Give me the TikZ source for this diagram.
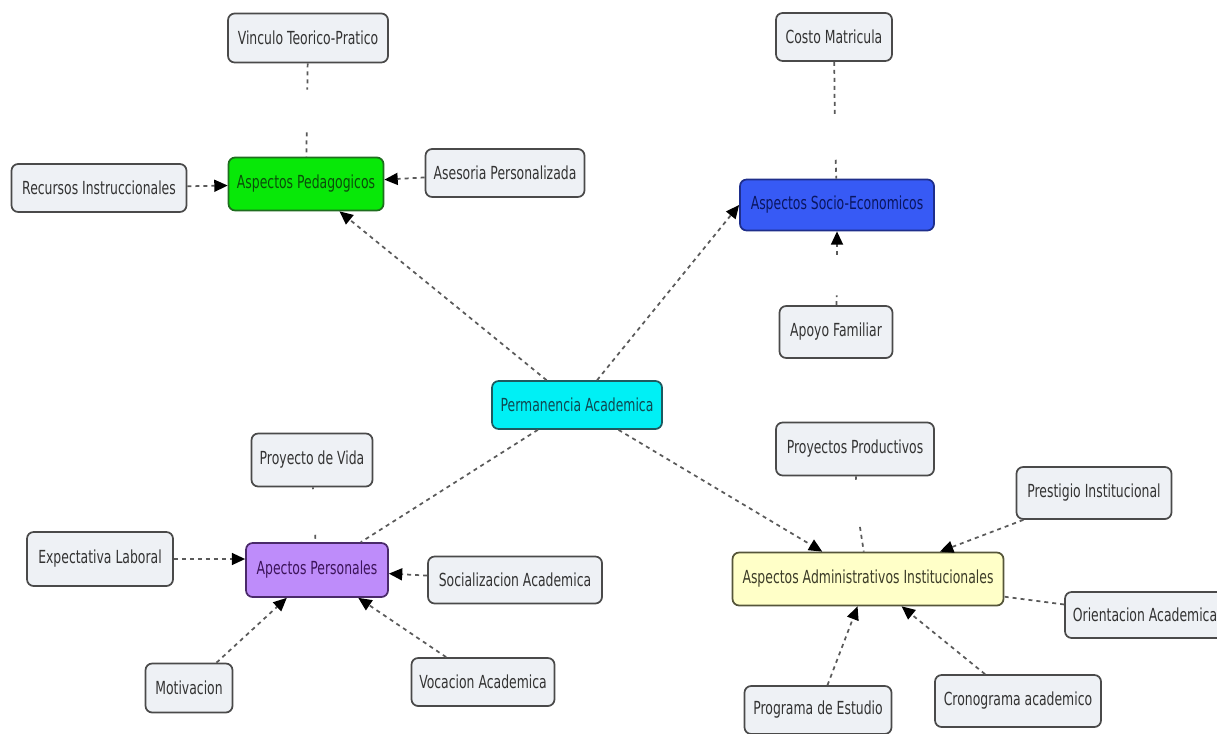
\documentclass[tikz,border=0pt]{standalone}
\usepackage{fontspec}
\setmainfont[FakeStretch=0.69]{DejaVu Sans}
\usetikzlibrary{arrows.meta}
\definecolor{boxfill}{HTML}{EEF1F5}
\definecolor{boxline}{HTML}{4A4A4A}
\definecolor{boxtext}{HTML}{333333}
\definecolor{connc}{HTML}{5A5A5A}
\definecolor{greenfill}{HTML}{08E808}
\definecolor{greenline}{HTML}{1E6E1E}
\definecolor{greentext}{HTML}{0B4D0B}
\definecolor{bluefill}{HTML}{375AF5}
\definecolor{blueline}{HTML}{1E2E8C}
\definecolor{bluetext}{HTML}{0A1660}
\definecolor{cyanfill}{HTML}{00F0F5}
\definecolor{cyanline}{HTML}{1E5A60}
\definecolor{cyantext}{HTML}{0F4850}
\definecolor{purplefill}{HTML}{BE8CFA}
\definecolor{purpleline}{HTML}{4A2A6A}
\definecolor{purpletext}{HTML}{3C145A}
\definecolor{yellowfill}{HTML}{FFFFC8}
\definecolor{yellowline}{HTML}{55553A}
\definecolor{yellowtext}{HTML}{3C3C28}
\begin{document}
\begin{tikzpicture}[x=0.75pt,y=-0.75pt,
  box/.style={draw=boxline, line width=1.3pt, rounded corners=5pt, fill=boxfill,
    text=boxtext, inner sep=0pt, font=\fontsize{13.5pt}{15pt}\selectfont},
  sz/.style 2 args={minimum width=#1*0.75pt, minimum height=#2*0.75pt},
  greenbox/.style={box, fill=greenfill, draw=greenline, text=greentext},
  bluebox/.style={box, fill=bluefill, draw=blueline, text=bluetext},
  cyanbox/.style={box, fill=cyanfill, draw=cyanline, text=cyantext},
  purplebox/.style={box, fill=purplefill, draw=purpleline, text=purpletext},
  yellowbox/.style={box, fill=yellowfill, draw=yellowline, text=yellowtext},
  gap/.style={inner sep=0pt, minimum width=4pt},
  conn/.style={draw=connc, line width=1.3pt, dash pattern=on 3pt off 3pt},
  arr/.style={conn, -{Triangle[length=10pt,width=9pt,color=black]}},
]
\clip (0,0) rectangle (1217,734);
\fill[white] (0,0) rectangle (1217,734);

% nodes
\node[box, sz={160}{49}] (vin) at (308,38) {Vinculo Teorico-Pratico};
\node[greenbox, sz={155}{53}] (ped) at (306,184) {Aspectos Pedagogicos};
\node[box, sz={175}{48}] (rec) at (99,188) {Recursos Instruccionales};
\node[box, sz={159}{48}] (ase) at (505,173) {Asesoria Personalizada};
\node[box, sz={116}{48}] (cos) at (834,37) {Costo Matricula};
\node[bluebox, sz={194}{51}] (soc) at (837,205) {Aspectos Socio-Economicos};
\node[box, sz={113}{52}] (apo) at (836,332) {Apoyo Familiar};
\node[cyanbox, sz={170}{48}] (per) at (577,405) {Permanencia Academica};
\node[box, sz={121}{53}] (pvi) at (312,460) {Proyecto de Vida};
\node[box, sz={146}{54}] (exp) at (100,559) {Expectativa Laboral};
\node[purplebox, sz={142}{54}] (pers) at (317,570) {Apectos Personales};
\node[box, sz={174}{47}] (socz) at (515,580) {Socializacion Academica};
\node[box, sz={87}{49}] (mot) at (189,688) {Motivacion};
\node[box, sz={143}{48}] (voc) at (483,682) {Vocacion Academica};
\node[box, sz={158}{53}] (ppr) at (855,449) {Proyectos Productivos};
\node[box, sz={155}{52}] (pre) at (1094,493) {Prestigio Institucional};
\node[yellowbox, sz={271}{53}] (adm) at (868,579) {Aspectos Administrativos Institucionales};
\node[box, sz={160}{46}] (ori) at (1145,615) {Orientacion Academica};
\node[box, sz={147}{48}] (prg) at (818,710) {Programa de Estudio};
\node[box, sz={166}{52}] (cro) at (1018,701) {Cronograma academico};

% empty linking phrases (gaps in the lines)
\node[gap, minimum height=42*0.75pt] (g1) at (307,111) {};
\node[gap, minimum height=43*0.75pt] (g2) at (835,138) {};
\node[gap, minimum height=40*0.75pt] (g3) at (837,275) {};
\node[gap, minimum height=45*0.75pt] (g4) at (314,512) {};
\node[gap, minimum height=56*0.75pt] (g5) at (857,508) {};

% connectors
\draw[conn] (vin) -- (g1);
\draw[conn] (g1) -- (ped);
\draw[arr] (rec) -- (ped);
\draw[arr] (ase) -- (ped);
\draw[conn] (cos) -- (g2);
\draw[conn] (g2) -- (soc);
\draw[conn] (apo) -- (g3);
\draw[arr] (g3) -- (soc);
\draw[arr] (per) -- (ped);
\draw[arr] (per) -- (soc.west);
\draw[conn] (per) -- (pers);
\draw[arr] (per) -- (adm);
\draw[conn] (pvi) -- (g4);
\draw[conn] (g4) -- (pers);
\draw[arr] (exp.east) -- (exp.east -| pers.west);
\draw[arr] (socz) -- (pers);
\draw[arr] (mot) -- (pers);
\draw[arr] (voc) -- (pers);
\draw[conn] (ppr) -- (g5);
\draw[conn] (g5) -- (adm);
\draw[arr] (pre) -- (adm);
\draw[conn] (ori) -- (adm);
\draw[arr] (prg) -- (adm);
\draw[arr] (cro) -- (adm);
\end{tikzpicture}
\end{document}
